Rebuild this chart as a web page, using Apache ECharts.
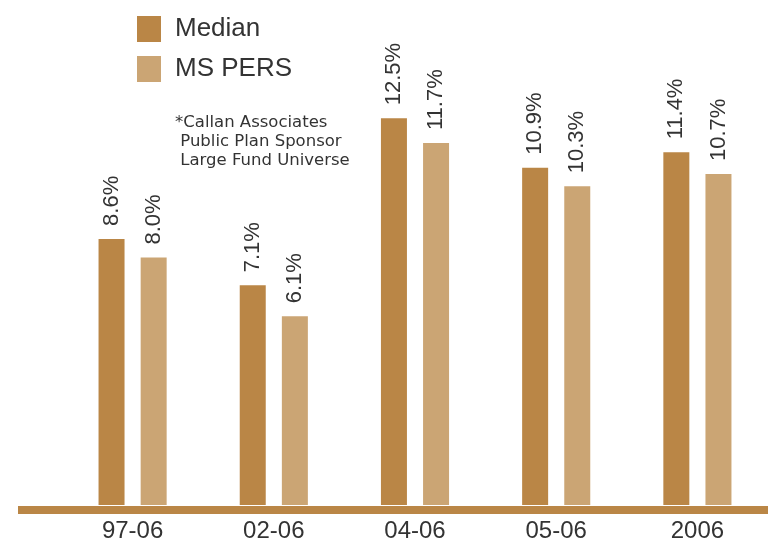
<!DOCTYPE html>
<html><head><meta charset="utf-8">
<script src="https://cdn.jsdelivr.net/npm/echarts@6/dist/echarts.min.js"></script>
<style>html,body{margin:0;padding:0;background:#fff}#c{width:768px;height:543px}</style>
</head><body><div id="c"></div>
<script>
const categories = ['97-06', '02-06', '04-06', '05-06', '2006'];
const medianValues = [8.6, 7.1, 12.5, 10.9, 11.4];
const msPersValues = [8.0, 6.1, 11.7, 10.3, 10.7];
const seriesNames = ['Median', 'MS PERS'];
const noteText = '*Callan Associates\n Public Plan Sponsor\n Large Fund Universe';

const DARK = '#BA8646', LIGHT = '#CBA574', TXT = '#333333';
const chart = echarts.init(document.getElementById('c'), null, {renderer: 'canvas'});
const lbl = {
  show: true, position: 'top', rotate: 90, align: 'left', verticalAlign: 'middle',
  distance: 13, fontSize: 22, color: TXT, fontFamily: 'Liberation Sans',
  formatter: p => p.value.toFixed(1) + '%'
};
chart.setOption({
  animation: false,
  title: {
    text: noteText, left: 170, top: 108,
    textStyle: {fontSize: 16.5, fontWeight: 'normal', color: TXT, fontFamily: 'DejaVu Sans', lineHeight: 19}
  },
  legend: {
    orient: 'vertical', left: 132, top: 11, itemWidth: 24, itemHeight: 26, itemGap: 14,
    icon: 'rect', data: seriesNames,
    textStyle: {fontSize: 26, lineHeight: 26, color: TXT, fontFamily: 'Liberation Sans', padding: [0, 0, 0, 9]}
  },
  grid: [
    {left: 62, right: 0, top: 10, bottom: 37},
    {left: 18, right: 0, top: 10, bottom: 37}
  ],
  xAxis: [
    {type: 'category', data: categories, gridIndex: 0,
     axisLine: {show: false}, axisTick: {show: false},
     axisLabel: {fontSize: 24, color: TXT, margin: 14, fontFamily: 'Liberation Sans Narrow, Liberation Sans'}},
    {type: 'category', data: [], gridIndex: 1, offset: 4,
     axisLine: {show: true, onZero: false, lineStyle: {color: DARK, width: 8, cap: 'butt'}},
     axisTick: {show: false}, axisLabel: {show: false}}
  ],
  yAxis: [
    {type: 'value', min: 0, max: 16, gridIndex: 0, show: false},
    {type: 'value', min: 0, max: 16, gridIndex: 1, show: false}
  ],
  series: [
    {name: seriesNames[0], type: 'bar', data: medianValues, barWidth: 26, barGap: '62%',
     itemStyle: {color: DARK}, label: lbl, z: 3},
    {name: seriesNames[1], type: 'bar', data: msPersValues, barWidth: 26, barGap: '62%',
     itemStyle: {color: LIGHT}, label: lbl, z: 3}
  ]
});
</script></body></html>
